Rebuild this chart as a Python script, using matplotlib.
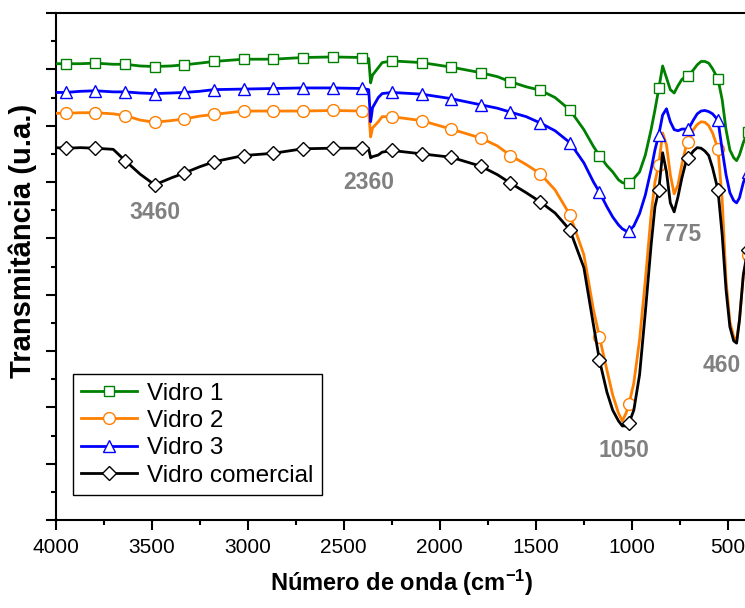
import matplotlib
matplotlib.use("Agg")
import matplotlib.pyplot as plt
from matplotlib.ticker import MultipleLocator

# ---------------- data ----------------
wavenumber = [4000, 3947, 3870, 3793, 3700, 3638, 3560, 3484, 3400, 3330, 3250, 3175,
              3021, 2867, 2712, 2558, 2404, 2370, 2360, 2350, 2320, 2300, 2249, 2095,
              1941, 1786, 1700, 1632, 1550, 1478, 1400, 1323, 1250, 1200, 1169, 1130,
              1100, 1070, 1050, 1030, 1015, 990, 960, 930, 900, 880, 860, 840, 820,
              800, 780, 760, 740, 720, 706, 680, 660, 640, 620, 600, 580, 552, 530,
              510, 490, 470, 455, 440, 420, 397]

marker_wavenumber = [3947, 3793, 3638, 3484, 3330, 3175, 3021, 2867, 2712, 2558, 2404,
                     2249, 2095, 1941, 1786, 1632, 1478, 1323, 1169, 1015, 860, 706,
                     552, 397]

vidro1 = [81.0, 81.0, 81.0, 81.1, 80.9, 80.9, 80.6, 80.5, 80.6, 80.8, 81.1, 81.4,
          81.8, 81.8, 82.1, 82.2, 82.1, 81.9, 77.6, 79.0, 80.3, 81.2, 81.5, 81.2,
          80.4, 79.4, 78.7, 77.8, 76.9, 76.3, 75.0, 72.8, 69.3, 66.3, 64.7, 62.9,
          61.8, 60.4, 59.9, 59.7, 59.9, 60.6, 61.8, 64.8, 69.3, 72.8, 76.6, 80.6, 78.5,
          76.4, 75.8, 77.1, 78.2, 78.7, 78.9, 79.9, 80.8, 81.4, 81.4, 81.1, 80.1, 78.3, 74.6,
          69.3, 65.7, 64.3, 63.8, 64.8, 67.0, 68.9]

vidro2 = [72.2, 72.2, 72.3, 72.3, 72.1, 71.8, 71.0, 70.6, 70.9, 71.2, 71.7, 72.0,
          72.6, 72.6, 72.6, 72.7, 72.6, 72.4, 68.0, 69.6, 70.7, 71.6, 71.6, 70.9,
          69.4, 67.8, 66.4, 64.7, 63.1, 61.5, 58.6, 54.2, 47.1, 37.3, 32.5, 26.6,
          22.2, 19.0, 17.6, 19.0, 20.6, 24.3, 32.0, 42.6, 54.2, 60.0, 63.1, 68.7, 66.6,
          61.3, 57.9, 59.5, 63.1, 66.1, 67.1, 69.3, 70.2, 70.7, 70.6, 70.0, 68.7, 65.9, 56.8,
          42.6, 35.2, 32.5, 32.0, 35.5, 43.5, 47.1]

vidro3 = [75.9, 75.9, 76.1, 76.2, 76.0, 76.0, 75.8, 75.7, 75.8, 75.9, 76.1, 76.4,
          76.5, 76.6, 76.7, 76.7, 76.6, 76.4, 70.7, 73.2, 75.0, 75.7, 75.9, 75.6,
          74.8, 73.7, 73.1, 72.4, 71.6, 70.5, 69.1, 67.0, 63.4, 60.0, 58.2, 55.6,
          53.8, 52.4, 51.7, 51.3, 51.3, 52.2, 54.4, 57.7, 62.2, 65.7, 68.4, 71.9, 73.0,
          70.7, 69.3, 69.1, 69.4, 69.4, 69.4, 71.0, 72.1, 72.6, 72.7, 72.5, 72.1, 71.0, 65.7,
          61.3, 58.1, 56.7, 56.3, 57.2, 59.9, 61.8]

vidro_comercial = [66.1, 66.0, 66.1, 66.0, 65.8, 63.8, 61.4, 59.5, 60.7, 61.6, 62.7, 63.6,
                   64.7, 65.1, 65.9, 66.0, 66.0, 65.9, 64.3, 64.5, 64.8, 65.3, 65.6, 65.0,
                   64.4, 62.8, 61.3, 59.8, 58.1, 56.5, 54.5, 51.5, 44.8, 34.6, 28.4, 22.7,
                   19.5, 17.6, 16.7, 16.7, 17.2, 19.5, 25.8, 36.9, 48.8, 55.6, 58.6, 65.2, 61.8,
                   56.3, 54.7, 57.4, 60.7, 63.4, 64.3, 65.5, 66.1, 66.0, 65.5, 64.7, 62.5, 58.6, 50.6,
                   40.9, 34.3, 31.8, 31.4, 35.5, 43.5, 48.0]

series_labels = ["Vidro 1", "Vidro 2", "Vidro 3", "Vidro comercial"]

peak_labels = ["3460", "2360", "1050", "775", "460"]
peak_label_x = [3483, 2369, 1041, 739, 531]
peak_label_y = [54.5, 59.9, 12.4, 50.6, 27.5]

x_ticks = [4000, 3500, 3000, 2500, 2000, 1500, 1000, 500]

# ---------------- style ----------------
plt.rcParams["font.family"] = ["Liberation Sans", "DejaVu Sans"]
plt.rcParams["mathtext.fontset"] = "custom"
plt.rcParams["mathtext.rm"] = "Liberation Sans:bold"
plt.rcParams["mathtext.default"] = "rm"

fig = plt.figure(figsize=(7.45, 6.08), dpi=100)
ax = fig.add_axes([0.0746, 0.1447, 0.9283, 0.8339])

styles = [
    dict(color="#008000", marker="s", ms=7.5),
    dict(color="#FF7F00", marker="o", ms=8.5),
    dict(color="#0000FF", marker="^", ms=9),
    dict(color="#000000", marker="D", ms=7.5),
]
mark_idx = [i for i, w in enumerate(wavenumber) if w in marker_wavenumber]

for ys, lab, st in zip([vidro1, vidro2, vidro3, vidro_comercial], series_labels, styles):
    ax.plot(wavenumber, ys, color=st["color"], lw=2.0, marker=st["marker"],
            ms=st["ms"], mfc="white", mec=st["color"], mew=1.0,
            markevery=mark_idx, label=lab, zorder=3)

for t, x, y in zip(peak_labels, peak_label_x, peak_label_y):
    ax.text(x, y, t, color="#808080", fontsize=16.5, fontweight="bold",
            ha="center", va="center")

ax.set_xlim(4000, 400)
ax.set_ylim(0, 90)
ax.set_xticks(x_ticks)
ax.xaxis.set_minor_locator(MultipleLocator(250))
ax.yaxis.set_major_locator(MultipleLocator(10))
ax.yaxis.set_minor_locator(MultipleLocator(5))
ax.set_yticklabels([])

ax.tick_params(which="major", direction="out", length=7, width=1.5,
               labelsize=15, pad=6)
ax.tick_params(which="minor", direction="out", length=3.6, width=1.5)
for sp in ax.spines.values():
    sp.set_linewidth(1.5)

ax.set_xlabel("Número de onda (cm$^{-1}$)", fontsize=17, fontweight="bold",
              va="center")
ax.xaxis.set_label_coords(0.5, -0.125)
ax.set_ylabel("Transmitância (u.a.)", fontsize=21, fontweight="bold", va="center")
ax.yaxis.set_label_coords(-0.047, 0.55)

leg = ax.legend(loc="lower left", bbox_to_anchor=(0.025, 0.049), borderaxespad=0,
                fontsize=17.5, frameon=True, fancybox=False, framealpha=1,
                edgecolor="black", handlelength=2.3, handletextpad=0.4,
                labelspacing=0.22, borderpad=0.35)
leg.get_frame().set_linewidth(1.0)

fig.savefig("out.png", dpi=100)
